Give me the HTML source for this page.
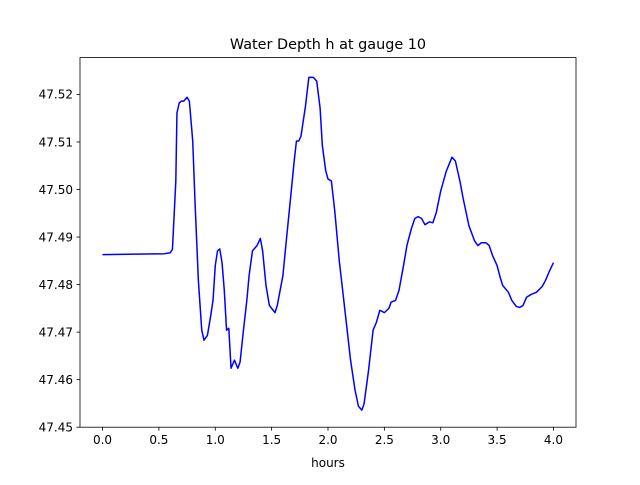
<!DOCTYPE html>
<html><head><meta charset="utf-8"><style>
body{margin:0;background:#fff;}
svg text{font-family:"DejaVu Sans","Liberation Sans",sans-serif;fill:#000;}
</style></head><body>
<svg id="chart" width="640" height="480" viewBox="0 0 640 480" xmlns="http://www.w3.org/2000/svg">
<rect width="640" height="480" fill="#fff"/>
<text x="328" y="49" font-size="14.4" text-anchor="middle">Water Depth h at gauge 10</text>
<g id="plot"></g>
<rect x="80" y="57.6" width="496" height="369.6" fill="none" stroke="#000" stroke-width="0.8"/>
<text x="328" y="467" font-size="12" text-anchor="middle">hours</text>
</svg>
<script>
const hours=[0,0.55,0.6,0.62,0.65,0.66,0.68,0.7,0.72,0.75,0.77,0.8,0.82,0.85,0.88,0.9,0.93,0.96,0.98,1.0,1.02,1.04,1.06,1.08,1.1,1.12,1.14,1.17,1.2,1.22,1.25,1.28,1.3,1.33,1.37,1.4,1.42,1.45,1.48,1.5,1.53,1.55,1.6,1.63,1.67,1.7,1.72,1.74,1.76,1.8,1.83,1.87,1.9,1.93,1.95,1.98,2.0,2.03,2.06,2.1,2.13,2.16,2.2,2.24,2.27,2.3,2.32,2.36,2.4,2.43,2.46,2.5,2.54,2.56,2.6,2.63,2.67,2.7,2.74,2.77,2.8,2.83,2.86,2.9,2.93,2.96,3.0,3.05,3.1,3.13,3.17,3.2,3.25,3.3,3.33,3.36,3.4,3.43,3.46,3.5,3.53,3.55,3.6,3.63,3.67,3.7,3.73,3.76,3.8,3.85,3.9,3.93,3.96,4.0];
const depth=[47.4863,47.4865,47.4867,47.4874,47.5018,47.5161,47.5182,47.5186,47.5186,47.5194,47.5186,47.5102,47.4976,47.4809,47.4704,47.4683,47.4693,47.4735,47.4767,47.4840,47.4871,47.4875,47.4846,47.4788,47.4704,47.4708,47.4624,47.4641,47.4624,47.4637,47.4704,47.4767,47.4819,47.4871,47.4882,47.4897,47.4871,47.4798,47.4756,47.4750,47.4741,47.4756,47.4819,47.4892,47.4987,47.5060,47.5102,47.5102,47.5112,47.5175,47.5236,47.5236,47.5228,47.5171,47.5092,47.5039,47.5022,47.5018,47.4955,47.4850,47.4788,47.4725,47.4641,47.4578,47.4544,47.4536,47.4549,47.4620,47.4704,47.4721,47.4746,47.4741,47.4750,47.4763,47.4767,47.4788,47.4840,47.4882,47.4918,47.4939,47.4943,47.4939,47.4926,47.4932,47.4930,47.4951,47.4997,47.5039,47.5068,47.5060,47.5018,47.4980,47.4924,47.4892,47.4882,47.4888,47.4888,47.4882,47.4861,47.4840,47.4813,47.4798,47.4784,47.4767,47.4754,47.4752,47.4756,47.4773,47.4779,47.4784,47.4796,47.4809,47.4826,47.4846];
const xTicks=[0,0.5,1.0,1.5,2.0,2.5,3.0,3.5,4.0];
const xTickLabels=["0.0","0.5","1.0","1.5","2.0","2.5","3.0","3.5","4.0"];
const yTicks=[47.45,47.46,47.47,47.48,47.49,47.50,47.51,47.52];
const yTickLabels=["47.45","47.46","47.47","47.48","47.49","47.50","47.51","47.52"];
const L=80,R=576,T=57.6,B=427.2,xMin=-0.2,xMax=4.2,yMin=47.45,yMax=47.52775;
const sx=v=>L+(v-xMin)/(xMax-xMin)*(R-L);
const sy=v=>B-(v-yMin)/(yMax-yMin)*(B-T);
const NS="http://www.w3.org/2000/svg";
const g=document.getElementById('plot');
function mk(t,a){const e=document.createElementNS(NS,t);for(const k in a)e.setAttribute(k,a[k]);g.appendChild(e);return e;}
xTicks.forEach((v,i)=>{
 const l=mk('line',{x1:sx(v),x2:sx(v),y1:B,y2:B+3.5,stroke:'#000','stroke-width':0.8});
 
 
 const t=mk('text',{x:sx(v),y:B+17,'font-size':12,'text-anchor':'middle'});
 t.textContent=xTickLabels[i];
 
 
});
yTicks.forEach((v,i)=>{
 const l=mk('line',{x1:L-3.5,x2:L,y1:sy(v),y2:sy(v),stroke:'#000','stroke-width':0.8});
 
 
 const t=mk('text',{x:L-7,y:sy(v)+4.3,'font-size':12,'text-anchor':'end'});
 t.textContent=yTickLabels[i];
 
 
});
const p=mk('path',{d:hours.map((h,i)=>(i?'L':'M')+sx(h).toFixed(2)+','+sy(depth[i]).toFixed(2)).join(''),fill:'none',stroke:'#0000ff','stroke-width':1.5,'stroke-linejoin':'round'});


</script>
</body></html>
